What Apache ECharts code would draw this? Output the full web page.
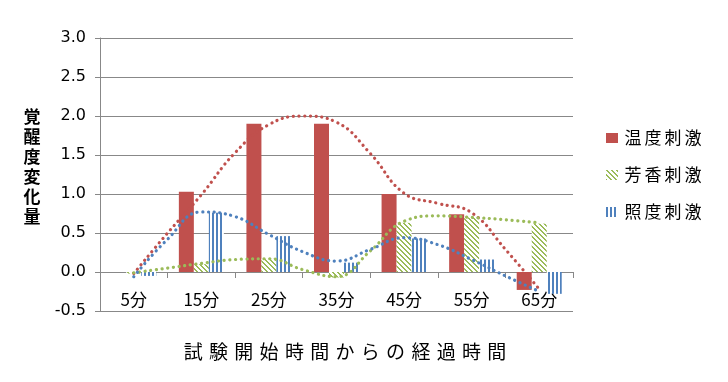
<!DOCTYPE html>
<html>
<head>
<meta charset="utf-8">
<script src="https://cdn.jsdelivr.net/npm/echarts@6/dist/echarts.min.js"></script>
<style>html,body{margin:0;padding:0;background:#fff;}#c{width:728px;height:382px;}</style>
</head>
<body>
<div id="c"></div>
<script>
const categories = ['5分', '15分', '25分', '35分', '45分', '55分', '65分'];
const seriesNames = ['温度刺激', '芳香刺激', '照度刺激'];
const tempValues = [0, 1.03, 1.90, 1.90, 1.00, 0.74, -0.23];
const aromaValues = [-0.02, 0.10, 0.17, -0.07, 0.63, 0.70, 0.62];
const lightValues = [-0.05, 0.76, 0.46, 0.12, 0.43, 0.16, -0.28];
const trendMinutes = [5, 10, 15, 20, 25, 30, 35, 40, 45, 50, 55, 60, 65];
const tempTrend = [-0.02, 0.50, 0.99, 1.53, 1.89, 2.00, 1.92, 1.52, 1.01, 0.88, 0.76, 0.29, -0.22];
const aromaTrend = [-0.01, 0.05, 0.11, 0.16, 0.17, 0.03, -0.06, 0.27, 0.65, 0.72, 0.70, 0.67, 0.63];
const lightTrend = [-0.06, 0.42, 0.77, 0.71, 0.48, 0.26, 0.14, 0.29, 0.44, 0.35, 0.16, -0.05, -0.25];
const yTickMin = -0.5, yTickMax = 3.0, yTickStep = 0.5;
const yAxisTitle = '覚醒度変化量';
const xAxisTitle = '試験開始時間からの経過時間';

const RED = '#C0504D', GREEN = '#9BBB59', BLUE = '#4F81BD';
const JP = '"Noto Sans CJK JP", "Noto Sans", sans-serif';
const GRID = { left: 100, right: 155, top: 38, bottom: 71 };
const H = 382;
const gridHeight = H - GRID.top - GRID.bottom;
// move the category axis up so that it sits on the value 0
const zeroOffset = -(0 - yTickMin) / (yTickMax - yTickMin) * gridHeight;

function stripePattern() {
  const c = document.createElement('canvas');
  c.width = 4; c.height = 4;
  const g = c.getContext('2d');
  g.fillStyle = '#fff'; g.fillRect(0, 0, 4, 4);
  g.fillStyle = BLUE; g.fillRect(0, 0, 2, 4);
  return { image: c, repeat: 'repeat' };
}
function hatchPattern() {
  const n = 5;
  const c = document.createElement('canvas');
  c.width = n; c.height = n;
  const g = c.getContext('2d');
  g.fillStyle = '#fff'; g.fillRect(0, 0, n, n);
  g.fillStyle = GREEN;
  for (let i = 0; i < n; i++) for (let j = 0; j < n; j++) {
    const d = ((i - j) % n + n) % n;
    if (d === 0 || d === 1) g.fillRect(i, j, 1, 1);
  }
  return { image: c, repeat: 'repeat' };
}

function trendSeries(values, color) {
  return {
    type: 'line', xAxisIndex: 1, yAxisIndex: 0,
    data: trendMinutes.map((m, i) => [m, values[i]]),
    smooth: 0.45, showSymbol: false, silent: true, z: 5,
    lineStyle: { color: color, width: 3.2, type: [0.1, 5.6], cap: 'round' }
  };
}

const chart = echarts.init(document.getElementById('c'), null, { renderer: 'canvas' });
chart.setOption({
  animation: false,
  backgroundColor: '#fff',
  grid: Object.assign({ containLabel: false, outerBoundsMode: 'none' }, GRID),
  legend: {
    orient: 'vertical', left: 606, top: 129, padding: 0,
    itemWidth: 12, itemHeight: 10, itemGap: 19,
    icon: 'rect',
    data: seriesNames,
    formatter: name => name.split('').map(ch => '{c|' + ch + '}').join(''),
    textStyle: {
      color: '#000', fontFamily: JP, fontSize: 17, lineHeight: 18,
      rich: { c: { width: 20, align: 'center', fontSize: 17, fontFamily: JP, color: '#000' } }
    }
  },
  xAxis: [
    {
      type: 'category', data: categories, gridIndex: 0, position: 'bottom',
      offset: zeroOffset,
      axisLine: { onZero: false, lineStyle: { color: '#888', width: 1 } },
      axisTick: { show: true, alignWithLabel: false, length: 6, lineStyle: { color: '#888' } },
      axisLabel: { color: '#000', fontSize: 17, fontFamily: JP, margin: 19, interval: 0 },
      splitLine: { show: false }
    },
    { type: 'value', min: 0, max: 70, show: false, gridIndex: 0 }
  ],
  yAxis: {
    type: 'value', min: yTickMin, max: yTickMax, interval: yTickStep,
    axisLine: { show: true, onZero: false, lineStyle: { color: '#888' } },
    axisTick: { show: true, length: 5, lineStyle: { color: '#888' } },
    axisLabel: { color: '#000', fontSize: 16, fontFamily: '"DejaVu Sans", sans-serif', margin: 14,
      formatter: v => v.toFixed(1) },
    splitLine: { show: true, lineStyle: { color: '#888', width: 1 } }
  },
  series: [
    { name: seriesNames[0], type: 'bar', data: tempValues, barWidth: 15, barGap: '0%',
      itemStyle: { color: RED } },
    { name: seriesNames[1], type: 'bar', data: aromaValues, barWidth: 15, barGap: '0%',
      itemStyle: { color: hatchPattern() } },
    { name: seriesNames[2], type: 'bar', data: lightValues, barWidth: 15, barGap: '0%',
      itemStyle: { color: stripePattern() } },
    trendSeries(tempTrend, RED),
    trendSeries(aromaTrend, GREEN),
    trendSeries(lightTrend, BLUE)
  ],
  graphic: [
    {
      type: 'text', x: 32, y: 107,
      style: { text: yAxisTitle.split('').join('\n'), font: 'bold 17px ' + JP, lineHeight: 20,
        align: 'center', verticalAlign: 'top', fill: '#000' }
    },
    {
      type: 'text', x: 345, y: 352,
      style: {
        text: xAxisTitle.split('').map(ch => '{c|' + ch + '}').join(''),
        align: 'center', verticalAlign: 'middle', fill: '#000',
        rich: { c: { width: 25.3, align: 'center', fontSize: 19, fontFamily: JP, fill: '#000' } }
      }
    }
  ]
});
</script>
</body>
</html>
